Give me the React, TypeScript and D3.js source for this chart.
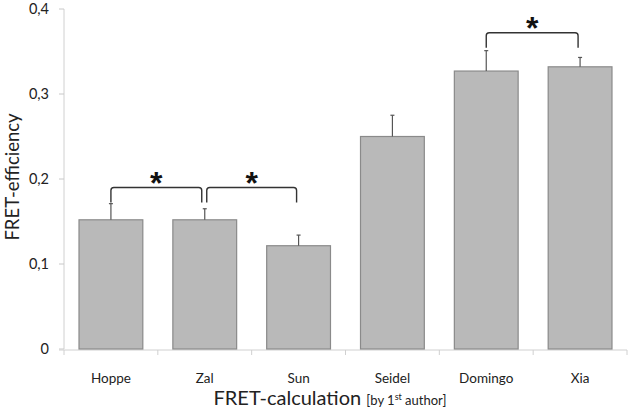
import React from "react";
import * as d3 from "d3";

const categories = ["Hoppe", "Zal", "Sun", "Seidel", "Domingo", "Xia"];
const values = [0.152, 0.152, 0.1215, 0.25, 0.327, 0.332];
const errors = [0.019, 0.013, 0.0125, 0.025, 0.024, 0.011];
const yTicks = [0, 0.1, 0.2, 0.3, 0.4];
const brackets: [string, string, number][] = [
  ["Hoppe", "Zal", 0.19],
  ["Zal", "Sun", 0.19],
  ["Domingo", "Xia", 0.372],
];

const W = 630;
const H = 412;
const m = { left: 64, right: 3, top: 9, bottom: 62 };

export default function App() {
  const x = d3
    .scaleBand<string>()
    .domain(categories)
    .range([m.left, W - m.right])
    .paddingInner(0.32)
    .paddingOuter(0.16);
  const bandStep = x.step();
  const y = d3.scaleLinear().domain([0, 0.4]).range([H - m.bottom - 1, m.top]);
  const fmt = (v: number) => (v === 0 ? "0" : d3.format(".1f")(v).replace(".", ","));
  const center = (c: string) => (x(c) as number) + x.bandwidth() / 2;
  const baseY = y(0);
  const font = "Lato, 'Open Sans', sans-serif";

  const bracketPath = (x1: number, x2: number, yy: number, leg: number) => {
    const r = 3;
    return `M${x1},${yy + leg} L${x1},${yy + r} Q${x1},${yy} ${x1 + r},${yy} L${x2 - r},${yy} Q${x2},${yy} ${x2},${yy + r} L${x2},${yy + leg}`;
  };

  return (
    <svg width={W} height={H} style={{ position: "absolute", left: 0, top: 0, background: "#fff" }}>
      {/* y axis */}
      <line x1={m.left} x2={m.left} y1={m.top} y2={baseY} stroke="#d0d0d0" strokeWidth={1} />
      {yTicks.map((t) => (
        <g key={t}>
          <line x1={m.left - 5} x2={m.left} y1={y(t)} y2={y(t)} stroke="#c8c8c8" />
          <text x={49} y={y(t)} dy="0.35em" textAnchor="end" fontSize={14.5} fontFamily={font} fill="#222">
            {fmt(t)}
          </text>
        </g>
      ))}
      {/* x axis */}
      <line x1={m.left - 5} x2={W - m.right} y1={baseY + 1} y2={baseY + 1} stroke="#d0d0d0" />
      {categories.map((c, i) => (
        <line
          key={"t" + c}
          x1={m.left + i * bandStep}
          x2={m.left + i * bandStep}
          y1={baseY + 1}
          y2={baseY + 6}
          stroke="#d0d0d0"
        />
      ))}
      <line x1={W - m.right} x2={W - m.right} y1={baseY + 1} y2={baseY + 6} stroke="#d0d0d0" />
      {/* bars */}
      {categories.map((c, i) => (
        <g key={c}>
          <rect
            x={x(c)}
            y={y(values[i])}
            width={x.bandwidth()}
            height={baseY - y(values[i])}
            fill="#b9b9b9"
            stroke="#8a8a8a"
            strokeWidth={1.2}
          />
          <line
            x1={center(c)}
            x2={center(c)}
            y1={y(values[i])}
            y2={y(values[i] + errors[i])}
            stroke="#555"
            strokeWidth={1.2}
          />
          <line
            x1={center(c) - 2}
            x2={center(c) + 2}
            y1={y(values[i] + errors[i])}
            y2={y(values[i] + errors[i])}
            stroke="#555"
            strokeWidth={1.2}
          />
          <text x={center(c)} y={383} textAnchor="middle" fontSize={13.5} fontFamily={font} fill="#222">
            {c}
          </text>
        </g>
      ))}
      {/* significance brackets */}
      {brackets.map(([a, b, lvl], k) => {
        const x1 = center(a) + (k === 1 ? 2 : 0);
        const x2 = center(b) - (k === 0 ? 3 : 2);
        const yy = y(lvl);
        return (
          <g key={k}>
            <path d={bracketPath(x1, x2, yy, 15)} fill="none" stroke="#333" strokeWidth={1.4} />
            <text
              x={(x1 + x2) / 2}
              y={yy + 6}
              textAnchor="middle"
              fontSize={32}
              fontWeight="bold"
              fontFamily="'Liberation Sans', Arial, sans-serif"
              fill="#111"
            >
              *
            </text>
          </g>
        );
      })}
      {/* axis titles */}
      <text
        transform={`translate(19,${177}) rotate(-90)`}
        textAnchor="middle"
        fontSize={18.5}
        fontFamily={font}
        fill="#222"
      >
        FRET-efficiency
      </text>
      <text x={330} y={405} textAnchor="middle" fontFamily={font} fill="#222">
        <tspan fontSize={20}>FRET-calculation </tspan>
        <tspan fontSize={13}>[by 1</tspan>
        <tspan fontSize={9} dy={-5}>st</tspan>
        <tspan fontSize={13} dy={5}> author]</tspan>
      </text>
    </svg>
  );
}
